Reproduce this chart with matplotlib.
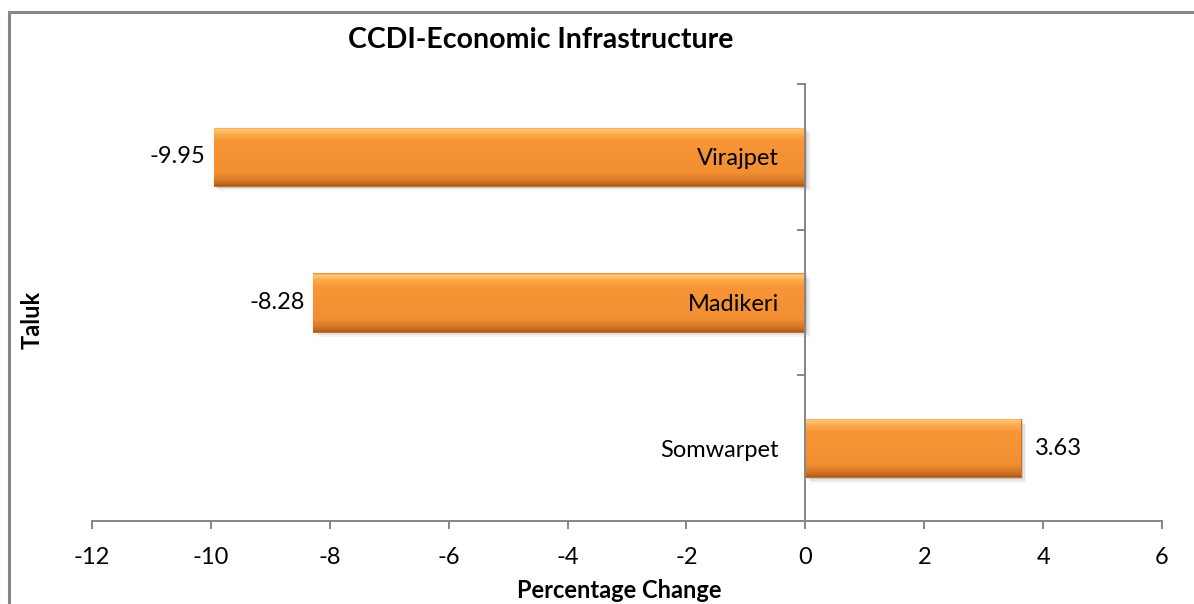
import numpy as np
import matplotlib
matplotlib.use("Agg")
import matplotlib.pyplot as plt
from matplotlib.colors import LinearSegmentedColormap
from matplotlib.patches import Rectangle

categories = ["Somwarpet", "Madikeri", "Virajpet"]
values = [3.63, -8.28, -9.95]
value_labels = ["3.63", "-8.28", "-9.95"]
xticks = [-12, -10, -8, -6, -4, -2, 0, 2, 4, 6]

title = "CCDI-Economic Infrastructure"
xlabel = "Percentage Change"
ylabel = "Taluk"

plt.rcParams['font.family'] = ['Lato', 'DejaVu Sans']

W, H = 1194, 604
fig = plt.figure(figsize=(W / 100, H / 100), dpi=100)
ax = fig.add_axes([92 / W, 83 / H, (1162 - 92) / W, (521 - 84) / H])

# outer chart border (top and left visible)
fig.patches.append(Rectangle((9 / W, -0.1), 1.2, (H - 12) / H + 0.1,
                             transform=fig.transFigure, fill=False,
                             edgecolor="#878787", linewidth=2.2, zorder=0))

ypos = np.arange(len(categories))
bar_h = 0.4
axis_gray = "#868686"

grad_cmap = LinearSegmentedColormap.from_list("bevel", [
    (0.00, "#E08A34"),
    (0.03, "#FDCB7A"),
    (0.12, "#FBAA4C"),
    (0.24, "#F89536"),
    (0.78, "#F28F33"),
    (0.90, "#DB7B27"),
    (0.97, "#BF6620"),
    (1.00, "#A85A1C"),
])
grad = np.linspace(0, 1, 200).reshape(-1, 1)

bars = ax.barh(ypos, values, height=bar_h, color="#F79535",
               edgecolor="#C9721F", linewidth=0.8, zorder=3)
for b in bars:
    x0, y0, w, h = b.get_x(), b.get_y(), b.get_width(), b.get_height()
    left, right = min(x0, x0 + w), max(x0, x0 + w)
    # soft shadow
    for k, a in enumerate([0.10, 0.07, 0.04]):
        off = 0.012 * (k + 1)
        ax.add_patch(Rectangle((left + 0.03 * (k + 1), y0 - off), right - left,
                               h, facecolor="black", alpha=a,
                               edgecolor="none", zorder=2))
    im = ax.imshow(grad, cmap=grad_cmap, aspect="auto",
                   extent=(left, right, y0, y0 + h), origin="upper",
                   zorder=3.5, interpolation="bilinear")
    im.set_clip_path(b)

ax.set_xlim(-12, 6)
ax.set_ylim(-0.5, 2.5)

for v, y, lab in zip(values, ypos, value_labels):
    if v < 0:
        ax.annotate(lab, (v, y), xytext=(-6, 0), textcoords="offset points",
                    ha="right", va="center", fontsize=17, color="black")
    else:
        ax.annotate(lab, (v, y), xytext=(10, 0), textcoords="offset points",
                    ha="left", va="center", fontsize=17, color="black")

ax.spines["top"].set_visible(False)
ax.spines["right"].set_visible(False)
ax.spines["left"].set_position(("data", 0))
for s in ("left", "bottom"):
    ax.spines[s].set_color(axis_gray)
    ax.spines[s].set_linewidth(1.4)
ax.spines["left"].set_zorder(5)

ax.set_xticks(xticks)
ax.set_xticklabels([str(t) for t in xticks], fontsize=17)
ax.tick_params(axis="x", direction="out", length=6, width=1.4,
               color=axis_gray, pad=13)

ax.set_yticks(np.arange(-0.5, len(categories), 1.0))
ax.set_yticklabels([])
ax.set_yticks(ypos, minor=True)
ax.set_yticklabels(categories, minor=True, fontsize=17)
ax.tick_params(axis="y", which="major", direction="out", length=6,
               width=1.4, color=axis_gray)
ax.tick_params(axis="y", which="minor", length=0, pad=19)
ax.yaxis.set_zorder(6)

fig.text(541 / W, 1 - 40 / H, title, ha="center", va="center",
         fontsize=20.5, fontweight="bold")
fig.text(619 / W, 1 - 591 / H, xlabel, ha="center", va="center",
         fontsize=17, fontweight="bold")
fig.text(32 / W, 1 - 320 / H, ylabel, ha="center", va="center",
         fontsize=17, fontweight="bold", rotation=90)

fig.savefig("out.png", dpi=100)
